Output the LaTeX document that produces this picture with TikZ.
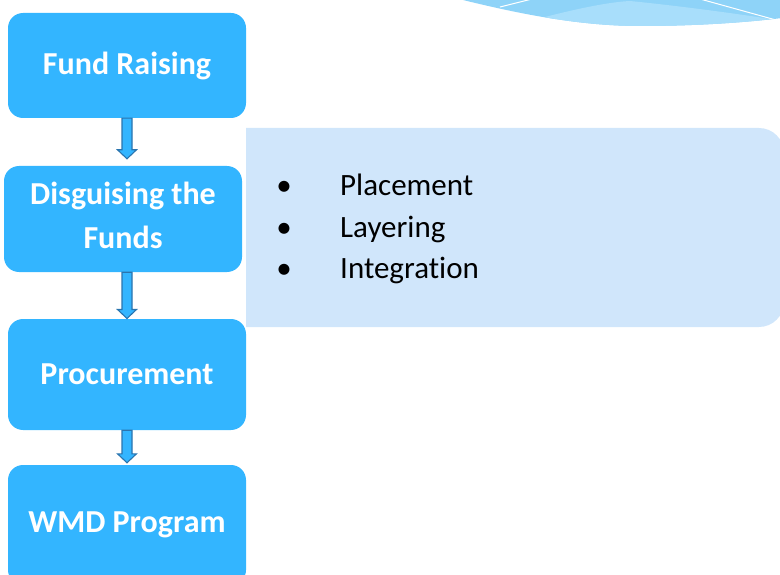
\documentclass[tikz,border=0pt]{standalone}
\usepackage{fontspec}
\setmainfont{Carlito}[Ligatures=NoCommon]
\usetikzlibrary{calc}
\definecolor{boxblue}{HTML}{33B5FF}
\definecolor{arrowline}{HTML}{2A74AE}
\definecolor{panelblue}{HTML}{D0E6FB}
\definecolor{wavedark}{HTML}{8ED3F8}
\definecolor{wavelight}{HTML}{A8DEFB}
\begin{document}
\begin{tikzpicture}[x=1pt,y=-1pt,
    stage/.style={rectangle, rounded corners=15pt, fill=boxblue, text=white,
      font=\fontsize{32}{44}\selectfont\bfseries, minimum width=238pt,
      minimum height=105pt, align=center, inner sep=0pt},
    flowarrow/.style={draw=arrowline, fill=boxblue, line width=1.1pt},
    listtext/.style={font=\fontsize{31}{41}\selectfont, inner sep=0pt}]
  \useasboundingbox (0,0) rectangle (780,575);

  % wave at the top right
  \begin{scope}
    \path[clip] (463,0) .. controls (520,14) and (580,26) .. (640,26)
      .. controls (700,26) and (750,22) .. (782,18) -- (782,0) -- cycle;
    \fill[wavedark] (440,-2) rectangle (790,40);
    \fill[wavelight] (545,17) .. controls (580,8) and (610,2) .. (630,1)
      .. controls (680,6) and (740,14) .. (790,22) -- (790,40) -- (545,40) -- cycle;
    \draw[white, line width=1pt] (500,7) -- (532,-1);
    \draw[white, line width=1pt] (700,-1) -- (776,20);
  \end{scope}

  % side panel
  \fill[panelblue] (400,128) [rounded corners=25pt] -- (784,128) -- (784,327)
    -- (500,327) [sharp corners] -- (246,327) -- (246,128) -- cycle;
  \foreach \item [count=\i] in {Placement,Layering,Integration} {
    \node[listtext, anchor=base] (dot\i) at (284,155+41*\i) {\textbullet};
    \node[listtext, anchor=base west] (item\i) at (340,155+41*\i) {\item};
  }

  % stages
  \node[stage] (fund) at (127,65.5) {Fund Raising};
  \node[stage, minimum height=106pt, text depth=8pt] (disg) at (123,219) {Disguising the\\Funds};
  \node[stage, minimum height=111pt] (proc) at (127,374.5) {Procurement};
  \node[stage, minimum height=120pt] (wmd) at (127,525) {WMD Program};

  \foreach \a/\b/\g/\c in {fund/disg/7/fund, disg/proc/0.3/proc, proc/wmd/2/proc} {
    \draw[flowarrow] let \p1=(\a.south), \p2=(\b.north), \p3=(\c.south) in
      (\x3-5pt,\y1) -- (\x3-5pt,\y2+\g*1pt+9pt) -- (\x3-9.5pt,\y2+\g*1pt+9pt)
      -- (\x3,\y2+\g*1pt) -- (\x3+9.5pt,\y2+\g*1pt+9pt)
      -- (\x3+5pt,\y2+\g*1pt+9pt) -- (\x3+5pt,\y1) -- cycle;
  }
\end{tikzpicture}
\end{document}
